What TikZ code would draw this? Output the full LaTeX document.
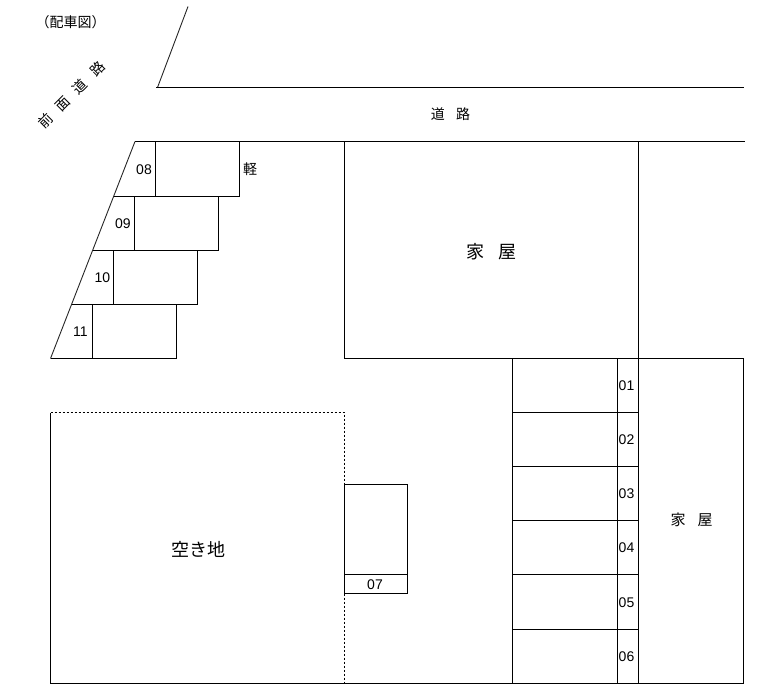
\documentclass[tikz,border=0pt]{standalone}
\usepackage{fontspec}
\setmainfont{Liberation Sans}
\newfontfamily\cjk{Noto Sans CJK JP}[Scale=1]
\tikzset{
  ln/.style={draw=black,line width=1pt,line cap=butt},
  dot/.style={draw=black,line width=1pt,dash pattern=on 2pt off 2pt},
  slant/.style={draw=black!85,line width=0.9pt},
  num/.style={inner sep=0pt,font=\fontsize{14}{14}\selectfont},
  jps/.style={inner sep=0pt,font=\cjk\fontsize{14}{14}\selectfont},
  jpm/.style={inner sep=0pt,font=\cjk\fontsize{15}{15}\selectfont},
  jpl/.style={inner sep=0pt,font=\cjk\fontsize{18}{18}\selectfont},
}
\begin{document}
\begin{tikzpicture}[x=1pt,y=-1pt]
\useasboundingbox (0,0) rectangle (760,696);
% road edges
\draw[slant] (188,6.5) -- (157.5,87.5);
\draw[ln] (156,87.5) -- (744,87.5);
\draw[ln] (135,141.5) -- (744.5,141.5);
\draw[slant] (135,141.5) -- (50.5,358.5);
% stepped parking 08-11
\draw[ln] (114,196.5) -- (239.5,196.5) -- (239.5,141.5);
\draw[ln] (155.5,141.5) -- (155.5,196.5);
\draw[ln] (93,250.5) -- (218.5,250.5) -- (218.5,196.5);
\draw[ln] (134.5,196.5) -- (134.5,250.5);
\draw[ln] (72,304.5) -- (197.5,304.5) -- (197.5,250.5);
\draw[ln] (113.5,250.5) -- (113.5,304.5);
\draw[ln] (50.5,358.5) -- (176.5,358.5) -- (176.5,304.5);
\draw[ln] (92.5,304.5) -- (92.5,358.5);
% house
\draw[ln] (344.5,141.5) -- (344.5,358.5) -- (743.5,358.5) -- (743.5,683.5);
\draw[ln] (638.5,141.5) -- (638.5,683.5);
% vacant lot
\draw[ln] (344.5,683.5) -- (50.5,683.5) -- (50.5,412.5);
\draw[ln] (344.5,683.5) -- (744,683.5);
\draw[dot] (50.5,412.5) -- (344.5,412.5) -- (344.5,484);
\draw[dot] (344.5,593.5) -- (344.5,683);
% space 07
\draw[ln] (344.5,484.5) rectangle (407.5,593.5);
\draw[ln] (344.5,574.5) -- (407.5,574.5);
% parking 01-06
\draw[ln] (512.5,358.5) -- (512.5,683.5);
\draw[ln] (617.5,358.5) -- (617.5,683.5);
\draw[ln] (512.5,412.5) -- (638.5,412.5);
\draw[ln] (512.5,466.5) -- (638.5,466.5);
\draw[ln] (512.5,520.5) -- (638.5,520.5);
\draw[ln] (512.5,574.5) -- (638.5,574.5);
\draw[ln] (512.5,629.5) -- (638.5,629.5);
% labels
\node[jps] (title) at (70.5,22) {（配車図）};
\node[jps,rotate=45] (frontroad) at (71.5,95) {前\hspace{0.75em}面\hspace{0.75em}道\hspace{0.75em}路};
\node[jps] (road) at (450.5,114) {道\hspace{0.8em}路};
\node[jps] (kei) at (250,169) {軽};
\node[jpl] (house1) at (491.5,252) {家\hspace{0.83em}屋};
\node[jpm] (house2) at (691.5,520) {家\hspace{0.8em}屋};
\node[jpl] (vacant) at (198.5,549) {空き地};
\node[num] (n08) at (144,169.7) {08};
\node[num] (n09) at (123,224) {09};
\node[num] (n10) at (102.5,278) {10};
\node[num] (n11) at (80.5,332) {11};
\node[num] (n07) at (375,584.7) {07};
\node[num] (n01) at (626.5,385.7) {01};
\node[num] (n02) at (626.5,439.7) {02};
\node[num] (n03) at (626.5,493.7) {03};
\node[num] (n04) at (626.5,547.7) {04};
\node[num] (n05) at (626.5,602.7) {05};
\node[num] (n06) at (626.5,656.7) {06};
\end{tikzpicture}
\end{document}
